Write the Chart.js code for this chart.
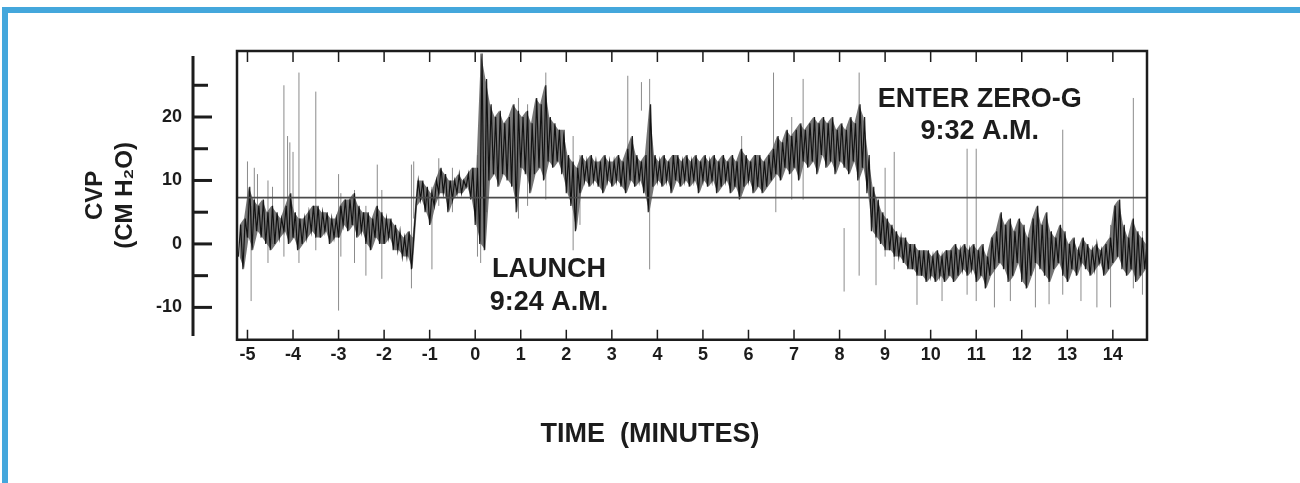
<!DOCTYPE html>
<html>
<head>
<title>CVP - launch and zero-G</title>
<script src="https://cdn.jsdelivr.net/npm/chart.js"></script>
<style>
  body { margin: 0; background: #fff; }
  #wrap { position: relative; width: 1300px; height: 483px; }
  #frame { position: absolute; left: 2px; top: 7px; right: 0; bottom: 0;
           border-top: 6px solid #44a7dc; border-left: 6px solid #44a7dc; pointer-events: none; }
</style>
</head>
<body>
<div id="wrap">
  <canvas id="cvp_chart" width="1300" height="483"></canvas>
  <div id="frame"></div>
</div>

<script>
// time axis: one sample every 0.1 min starting at -5.2 min
const timeStart = -5.2;
const timeStep = 0.1;

// lower / upper edge of the dense trace for each sample (cm H2O)
const coreLow = [
  -2,-4,1,-1,2,1,0,-1,0,1,
  2,0,1,-1,0,1,2,1,1,2,
  0,1,1,3,2,3,1,2,0,-1,
  1,0,0,1,-1,-1,-2,-2,-4,6,
  7,5,3,6,8,8,5,7,8,8,
  9,7,3,0,-1,10,11,9,11,10,
  9,5,12,11,8,11,12,10,13,12,
  13,11,8,6,2,8,10,9,10,9,
  8,10,9,10,9,8,10,9,10,8,
  5,9,10,9,10,8,10,9,10,9,
  10,8,10,9,10,8,9,10,8,9,
  7,9,10,8,9,8,9,10,11,10,
  12,11,12,10,13,12,13,11,14,12,
  13,11,13,12,11,13,10,12,8,2,
  1,0,-1,-1,-2,-2,-3,-4,-4,-5,
  -5,-6,-5,-6,-5,-6,-5,-6,-5,-4,
  -5,-4,-6,-5,-7,-5,-4,-3,-4,-6,
  -5,-3,-6,-7,-5,-3,-4,-5,-6,-4,
  -3,-5,-6,-4,-5,-3,-4,-5,-4,-3,
  -5,-4,-3,-2,-4,-5,-4,-6,-5,-4
];
const coreHigh = [
  3,4,9,7,6,7,5,6,5,4,
  6,8,5,4,4,5,6,6,5,5,
  4,4,6,7,7,8,6,5,5,4,
  6,5,4,4,3,2,1,2,1,10,
  10,9,8,10,12,11,10,10,11,10,
  11,12,12,30,26,22,20,21,19,20,
  22,21,20,21,19,23,22,25,20,19,
  18,18,14,13,12,14,13,14,13,13,
  14,13,13,14,13,15,17,14,13,14,
  22,14,13,14,13,14,14,13,14,13,
  14,13,14,13,14,13,14,13,14,13,
  15,14,13,14,14,13,14,15,17,16,
  18,17,18,19,18,19,20,19,20,19,
  20,18,19,18,20,19,22,20,14,9,
  7,5,4,3,2,1,1,0,0,-1,
  -1,-1,-2,-1,-2,-1,-1,0,-1,0,
  -1,0,-1,0,-2,1,2,5,3,4,
  2,4,3,1,4,6,3,5,2,1,
  3,2,0,1,-1,1,0,-1,0,-1,
  0,1,6,7,3,1,4,2,1,0
];

// thin grey excursions: [time, bottom, top]
const spikes = [
  [-5.0, 3, 13], [-4.92, -9, 6], [-4.85, 4, 12], [-4.78, 3, 11], [-4.55, -3, 10],
  [-4.45, 0, 9], [-4.2, -2, 25], [-4.12, 2, 17], [-4.07, 3, 16], [-4.0, 1, 14.5],
  [-3.87, -3, 27], [-3.5, -1, 24], [-3.0, -10.5, 11], [-2.95, -2, 8], [-2.65, -3, 8.5],
  [-2.4, -5, 6], [-2.15, 2, 12.5], [-2.05, -5.5, 8.5], [-1.4, -7, 12.5], [-1.35, 4, 13],
  [-0.95, -4, 9], [-0.8, 6, 13.5], [-0.5, 5, 12], [0.05, -2, 14], [0.12, -3, 30],
  [0.25, 5, 24], [0.95, 4, 23], [1.15, 6, 22], [1.55, 7, 27], [2.15, -1, 17],
  [2.3, 3, 14], [3.35, 14, 26.5], [3.65, 21, 25.5], [3.83, -4, 26], [5.85, 8, 17],
  [6.55, 12, 27], [6.6, 5, 15], [6.95, 7, 20], [7.2, 7, 26], [8.1, -7.5, 2.5],
  [8.43, -5, 27], [8.8, -6.5, 5], [9.0, -2, 12], [9.2, -4, 14.5], [9.7, -9.6, -2],
  [10.25, -9, -3], [10.8, -8, 15], [11.0, -9, 15], [11.4, -10, -3], [11.75, -9, 2],
  [12.3, -10, 3], [12.6, -9.5, 1], [12.9, -8, 18], [13.3, -9, -1], [13.65, -10, 0],
  [13.95, -10, 3], [14.45, -7, 23], [14.65, -8, 2]
];

const baselineCVP = 7.3;
const xRange = [-5.23, 14.75];
const yRange = [-15.1, 30.4];
const xLabelTicks = [-5,-4,-3,-2,-1,0,1,2,3,4,5,6,7,8,9,10,11,12,13,14];
const yLabelTicks = [-10, 0, 10, 20];
const yMarkTicks = [-10, -5, 0, 5, 10, 15, 20, 25];
const ySpine = [-14.5, 29.6];

const notes = [
  { t: 1.62, v: -4.1, text: 'LAUNCH' },
  { t: 1.62, v: -9.3, text: '9:24 A.M.' },
  { t: 11.08, v: 22.8, text: 'ENTER ZERO-G' },
  { t: 11.08, v: 17.7, text: '9:32 A.M.' }
];

const FONT = '"Liberation Sans", Arial, Helvetica, sans-serif';

// zigzag between low and high edge, so the trace looks like the dense recorder trace
const tracePoints = [];
const lowPoints = [];
const highPoints = [];
coreLow.forEach((lo, i) => {
  const t = timeStart + i * timeStep;
  tracePoints.push({ x: t, y: lo });
  tracePoints.push({ x: t + timeStep / 2, y: coreHigh[i] });
  lowPoints.push({ x: t + timeStep / 4, y: lo });
  highPoints.push({ x: t + timeStep / 4, y: coreHigh[i] });
});

const spikePoints = [];
spikes.forEach(s => {
  spikePoints.push({ x: s[0], y: s[1] }, { x: s[0], y: s[2] }, { x: s[0], y: null });
});

const decor = {
  id: 'decor',
  afterDatasetsDraw(chart) {
    const { ctx, chartArea: a, scales: { x, y } } = chart;
    const seg = (x1, y1, x2, y2) => { ctx.beginPath(); ctx.moveTo(x1, y1); ctx.lineTo(x2, y2); ctx.stroke(); };
    ctx.save();
    ctx.strokeStyle = '#1c1c1c';
    ctx.lineWidth = 2.5;
    ctx.strokeRect(a.left, a.top, a.right - a.left, a.bottom - a.top);

    // inward ticks, top and bottom of the box
    ctx.lineWidth = 1.5;
    xLabelTicks.forEach(v => {
      const px = x.getPixelForValue(v);
      seg(px, a.bottom, px, a.bottom - 10);
      seg(px, a.top, px, a.top + 11);
    });

    // detached y axis
    const sx = a.left - 44;
    ctx.lineWidth = 3;
    seg(sx, y.getPixelForValue(ySpine[1]), sx, y.getPixelForValue(ySpine[0]));
    yMarkTicks.forEach(v => {
      const py = y.getPixelForValue(v);
      seg(sx, py, sx + (yLabelTicks.includes(v) ? 19 : 15), py);
    });

    ctx.fillStyle = '#1c1c1c';
    ctx.font = 'bold 27px ' + FONT;
    ctx.textAlign = 'center';
    ctx.textBaseline = 'middle';
    notes.forEach(n => ctx.fillText(n.text, x.getPixelForValue(n.t), y.getPixelForValue(n.v)));
    ctx.restore();
  }
};

document.addEventListener('DOMContentLoaded', function() {
  const ctx = document.getElementById('cvp_chart').getContext('2d');
  new Chart(ctx, {
    type: 'line',
    data: {
      datasets: [{
        label: 'baseline',
        data: [{ x: xRange[0], y: baselineCVP }, { x: xRange[1], y: baselineCVP }],
        borderColor: '#4a4a4a',
        borderWidth: 1.6,
        pointRadius: 0,
        order: 0
      }, {
        label: 'CVP',
        data: tracePoints,
        borderColor: 'rgba(8,8,8,0.9)',
        borderWidth: 1.2,
        pointRadius: 0,
        tension: 0,
        order: 1
      }, {
        label: 'spikes',
        data: spikePoints,
        borderColor: 'rgba(90,90,90,0.7)',
        borderWidth: 1,
        pointRadius: 0,
        spanGaps: false,
        order: 2
      }, {
        label: 'band low',
        data: lowPoints,
        borderWidth: 0,
        pointRadius: 0,
        fill: false,
        order: 3
      }, {
        label: 'band high',
        data: highPoints,
        borderWidth: 0,
        pointRadius: 0,
        fill: 3,
        backgroundColor: 'rgba(35,35,35,0.62)',
        order: 3
      }]
    },
    options: {
      responsive: false,
      animation: false,
      layout: { padding: { top: 51, right: 0, left: 0, bottom: 0 } },
      scales: {
        x: {
          type: 'linear',
          min: xRange[0],
          max: xRange[1],
          afterBuildTicks: s => { s.ticks = xLabelTicks.map(v => ({ value: v })); },
          afterFit: s => { s.height = 80; s.paddingLeft = 0; s.paddingRight = 0; },
          ticks: { color: '#1c1c1c', font: { family: FONT, size: 18, weight: 'bold' }, padding: 4, maxRotation: 0, autoSkip: false },
          grid: { display: false, drawTicks: false },
          border: { display: false }
        },
        y: {
          type: 'linear',
          min: yRange[0],
          max: yRange[1],
          afterBuildTicks: s => { s.ticks = yLabelTicks.map(v => ({ value: v })); },
          afterFit: s => { s.width = 237; s.paddingTop = 0; s.paddingBottom = 0; },
          ticks: { color: '#1c1c1c', font: { family: FONT, size: 18, weight: 'bold' }, padding: 55 },
          grid: { display: false, drawTicks: false },
          border: { display: false },
          title: {
            display: true,
            text: ['CVP', '(CM H\u2082O)'],
            color: '#1c1c1c',
            font: { family: FONT, size: 24, weight: 'bold', lineHeight: 1.25 },
            padding: { top: 80, bottom: 0 }
          }
        },
        // empty right-hand axis that only holds the right margin of the sheet
        yMargin: {
          type: 'linear',
          position: 'right',
          min: yRange[0],
          max: yRange[1],
          afterFit: s => { s.width = 153; s.paddingTop = 0; s.paddingBottom = 0; },
          ticks: { display: false },
          grid: { display: false, drawTicks: false },
          border: { display: false }
        }
      },
      plugins: {
        legend: { display: false },
        tooltip: { enabled: false },
        title: {
          display: true,
          text: 'TIME  (MINUTES)',
          position: 'bottom',
          color: '#1c1c1c',
          font: { family: FONT, size: 27, weight: 'bold', lineHeight: 1.12 },
          padding: { top: 0, bottom: 33 }
        }
      }
    },
    plugins: [decor]
  });
});
</script>
</body>
</html>
